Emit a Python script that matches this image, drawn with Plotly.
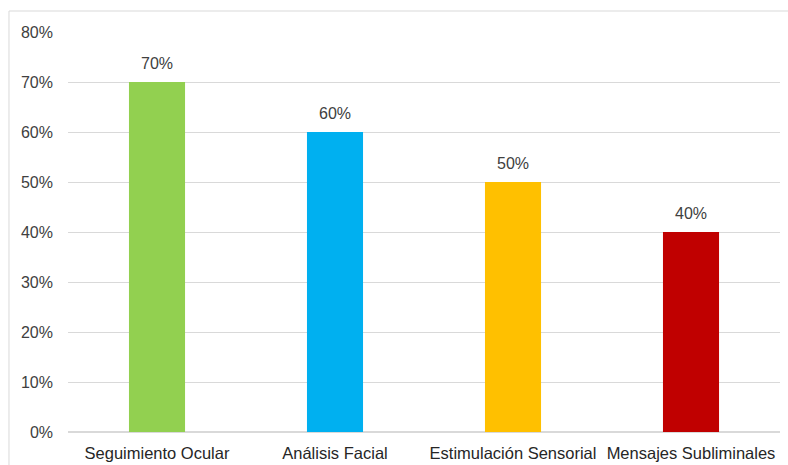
import plotly.graph_objects as go

categories = ["Seguimiento Ocular", "Análisis Facial", "Estimulación Sensorial", "Mensajes Subliminales"]
values = [0.70, 0.60, 0.50, 0.40]
labels = ["70%", "60%", "50%", "40%"]
colors = ["#92D050", "#00B0F0", "#FFC000", "#C00000"]
tick_vals = [0, 0.1, 0.2, 0.3, 0.4, 0.5, 0.6, 0.7, 0.8]
tick_text = ["0%", "10%", "20%", "30%", "40%", "50%", "60%", "70%", "80%"]

font = "Liberation Sans, Arial, sans-serif"

fig = go.Figure(go.Bar(
    x=categories, y=values, marker_color=colors, marker_line_width=0,
))

for c, v, t in zip(categories, values, labels):
    fig.add_annotation(x=c, y=v, text=t, showarrow=False, yanchor="bottom", yshift=8,
                       font=dict(family=font, size=16, color="#404040"))

fig.update_layout(
    width=788, height=465,
    margin=dict(l=68, r=8, t=32, b=33),
    paper_bgcolor="white", plot_bgcolor="white",
    bargap=0.685, showlegend=False,
    font=dict(family=font, size=16, color="#404040"),
    shapes=[dict(type="rect", xref="paper", yref="paper",
                 x0=-0.0829, x1=1.03, y0=-0.2, y1=1.0525,
                 line=dict(color="#D9D9D9", width=1), fillcolor="rgba(0,0,0,0)", layer="below")],
)
fig.update_xaxes(showgrid=False, showline=False, ticks="", tickfont=dict(size=16.5, color="#262626"),
                 ticklabelstandoff=9, automargin=False)
fig.update_yaxes(range=[0, 0.8], tickvals=tick_vals, ticktext=tick_text, showgrid=True,
                 gridcolor="#D9D9D9", gridwidth=1, zeroline=True, zerolinecolor="#D9D9D9",
                 showline=False, ticks="", ticklabelstandoff=14, automargin=False,
                 tickfont=dict(size=16, color="#404040"))

fig.write_html("out.html")
